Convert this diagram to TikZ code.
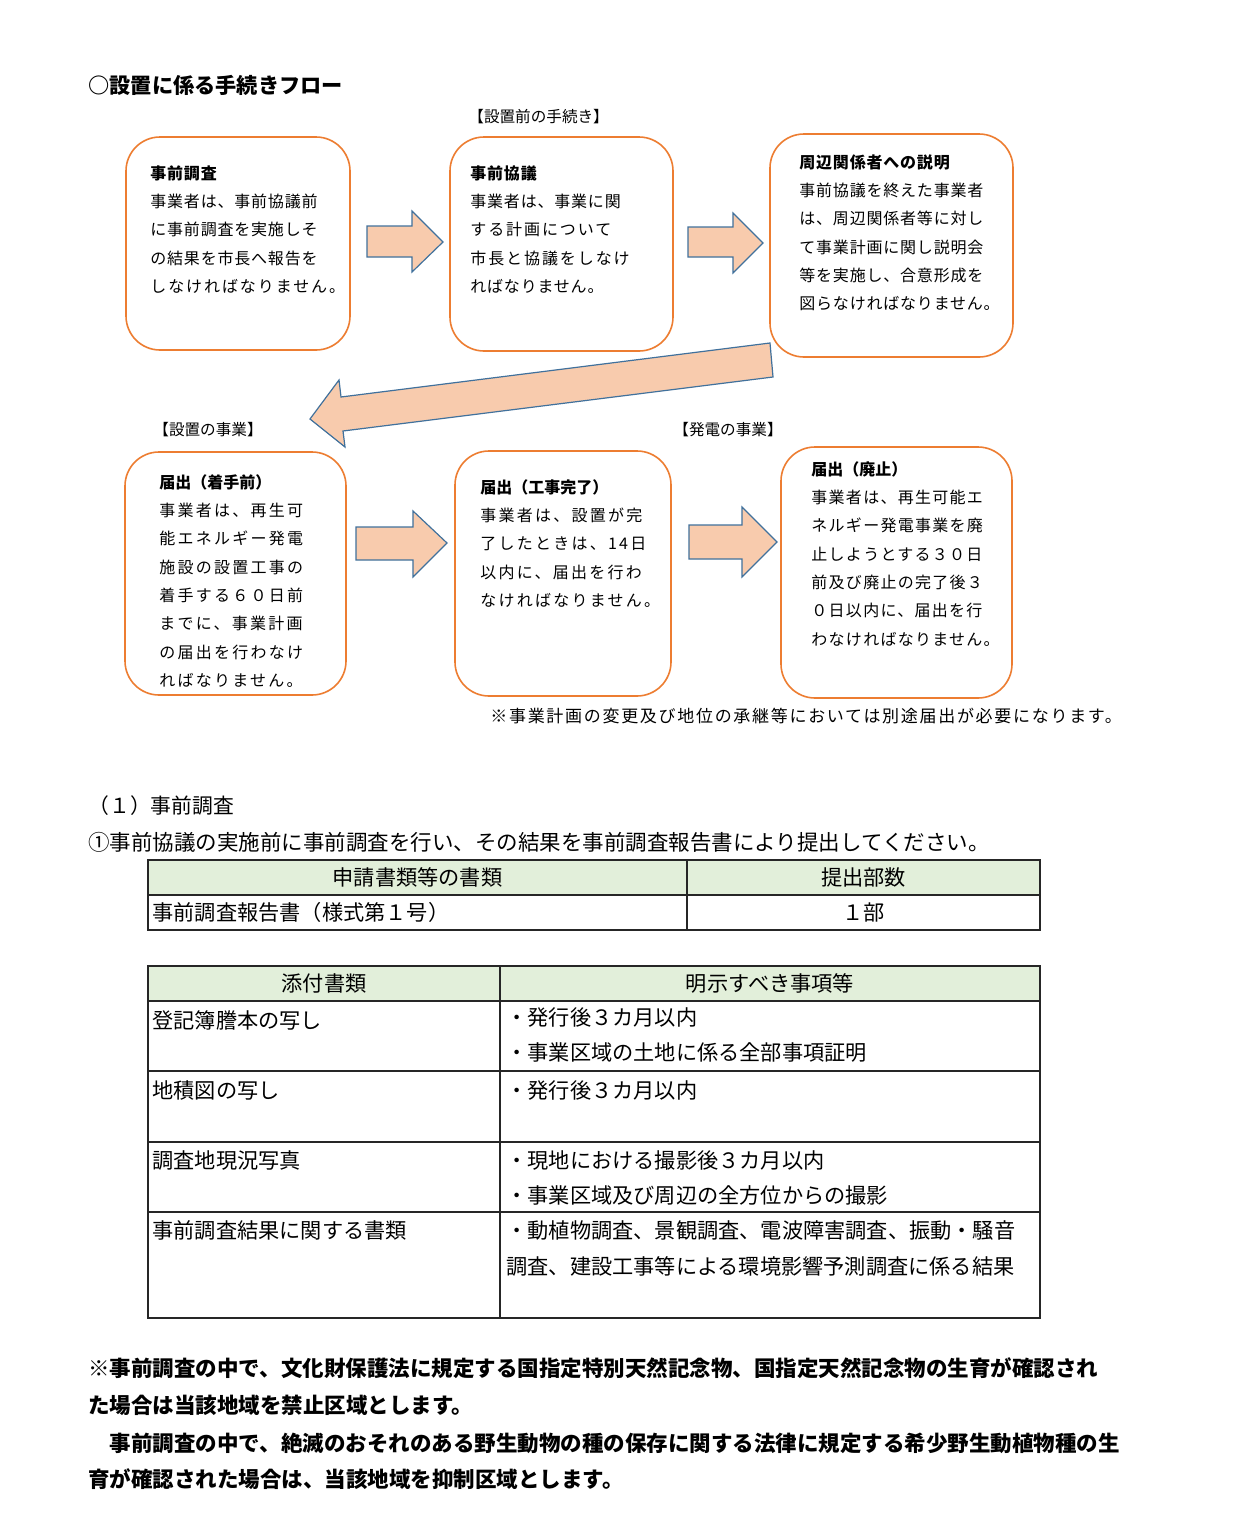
\documentclass[tikz,border=0pt]{standalone}
\usepackage{fontspec}
\setmainfont{Noto Sans CJK JP}
\usetikzlibrary{calc}

\definecolor{boxline}{HTML}{ED7D31}
\definecolor{arrfill}{HTML}{F8CBAD}
\definecolor{arrline}{HTML}{41719C}
\definecolor{headfill}{HTML}{E2EFDA}
\definecolor{tblline}{HTML}{262626}

\begin{document}
\begin{tikzpicture}[x=0.5pt, y=-0.5pt,
  box/.style={draw=boxline, line width=0.8pt, rounded corners=17pt},
  boxtxt/.style={anchor=north west, inner sep=0pt, align=left, font=\fontsize{8}{14.15}\selectfont\addfontfeatures{LetterSpace=#1}},
  boxtxt/.default=5,
  tag/.style={anchor=west, inner sep=0pt, font=\fontsize{7.8}{9}\selectfont},
  blk/.style={draw=arrline, line width=0.6pt, fill=arrfill, line join=miter},
  tbl/.style={draw=tblline, line width=0.8pt},
  cell/.style={anchor=west, inner sep=0pt, font=\fontsize{10.6}{12}\selectfont},
  note/.style={anchor=west, inner sep=0pt, font=\fontsize{10.75}{12}\selectfont\bfseries}]
\useasboundingbox (0,0) rectangle (1240,1531);
\fill[white] (0,0) rectangle (1240,1531);

\node[anchor=west, inner sep=0pt, font=\fontsize{10.6}{12}\selectfont\bfseries] (title) at (88,85) {○設置に係る手続きフロー};

% flow boxes
\node[box, minimum width=112pt, minimum height=106.5pt] (b1) at (238,243.5) {};
\node[box, minimum width=111.5pt, minimum height=107pt] (b2) at (561.5,244) {};
\node[box, minimum width=121.5pt, minimum height=111.5pt] (b3) at (891.5,245.5) {};
\node[box, minimum width=110.5pt, minimum height=121.5pt] (b4) at (235.5,573.5) {};
\node[box, minimum width=108pt, minimum height=122.5pt] (b5) at (563,573.5) {};
\node[box, minimum width=115.5pt, minimum height=125.5pt] (b6) at (896.5,572.5) {};

\node[boxtxt] (t1) at (150,165) {\textbf{事前調査}\\事業者は、事前協議前\\に事前調査を実施しそ\\の結果を市長へ報告を\\{\addfontfeatures{LetterSpace=12}しなければなりません。}};
\node[boxtxt] (t2) at (470,165) {\textbf{事前協議}\\事業者は、事業に関\\{\addfontfeatures{LetterSpace=12}する計画について}\\{\addfontfeatures{LetterSpace=12}市長と協議をしなけ}\\ればなりません。};
\node[boxtxt] (t3) at (799,154) {\textbf{周辺関係者への説明}\\事前協議を終えた事業者\\は、周辺関係者等に対し\\て事業計画に関し説明会\\等を実施し、合意形成を\\図らなければなりません。};
\node[boxtxt=14] (t4) at (159,474) {{\addfontfeatures{LetterSpace=0}\textbf{届出（着手前）}}\\事業者は、再生可\\能エネルギー発電\\施設の設置工事の\\着手する６０日前\\までに、事業計画\\の届出を行わなけ\\ればなりません。};
\node[boxtxt=14] (t5) at (480,479) {{\addfontfeatures{LetterSpace=0}\textbf{届出（工事完了）}}\\事業者は、設置が完\\了したときは、14日\\以内に、届出を行わ\\なければなりません。};
\node[boxtxt=8] (t6) at (811,461) {{\addfontfeatures{LetterSpace=0}\textbf{届出（廃止）}}\\事業者は、再生可能エ\\ネルギー発電事業を廃\\止しようとする３０日\\前及び廃止の完了後３\\０日以内に、届出を行\\わなければなりません。};

\node[tag] (lb1) at (468,117) {【設置前の手続き】};
\node[tag] (lb2) at (153,430) {【設置の事業】};
\node[tag] (lb3) at (673,430) {【発電の事業】};

% block arrows
\draw[blk] (367,226) -- (412,226) -- (412,211) -- (443,242) -- (412,272) -- (412,257) -- (367,257) -- cycle;
\draw[blk] (688,227) -- (733,227) -- (733,213) -- (763,243) -- (733,273) -- (733,257) -- (688,257) -- cycle;
\draw[blk] (770,343) -- (341,397) -- (339,380) -- (310,419) -- (345,447) -- (343,431) -- (773,377) -- cycle;
\draw[blk] (356,527) -- (413,527) -- (413,511) -- (447,543) -- (413,577) -- (413,560) -- (356,560) -- cycle;
\draw[blk] (689,525) -- (742,525) -- (742,507) -- (777,542) -- (742,577) -- (742,559) -- (689,559) -- cycle;

\node[anchor=west, inner sep=0pt, font=\fontsize{8.5}{10}\selectfont\addfontfeatures{LetterSpace=10}] (fn) at (490,716) {※事業計画の変更及び地位の承継等においては別途届出が必要になります。};

% section (1)
\node[anchor=west, inner sep=0pt, font=\fontsize{10.4}{12}\selectfont] (sec) at (88,806) {（１）事前調査};
\node[anchor=west, inner sep=0pt, font=\fontsize{10.75}{12}\selectfont] (lead) at (88,842) {①事前協議の実施前に事前調査を行い、その結果を事前調査報告書により提出してください。};

% table 1
\fill[headfill] (148,860) rectangle (1040,895);
\draw[tbl] (148,860) rectangle (1040,930);
\draw[tbl] (148,895) -- (1040,895);
\draw[tbl] (687,860) -- (687,930);
\node[cell, anchor=center] (h11) at (417.5,877) {申請書類等の書類};
\node[cell, anchor=center] (h12) at (863.5,877) {提出部数};
\node[cell] (c11) at (152,912) {事前調査報告書（様式第１号）};
\node[cell, anchor=center] (c12) at (863.5,912) {１部};

% table 2
\fill[headfill] (148,966) rectangle (1040,1001);
\draw[tbl] (148,966) rectangle (1040,1318);
\foreach \yy in {1001,1071,1142,1212}
  \draw[tbl] (148,\yy) -- (1040,\yy);
\draw[tbl] (500,966) -- (500,1318);
\node[cell, anchor=center] (h21) at (324,983) {添付書類};
\node[cell, anchor=center] (h22) at (770,983) {明示すべき事項等};
\node[cell] (r1a) at (152,1020) {登記簿謄本の写し};
\node[cell] (r1b) at (506,1017) {・発行後３カ月以内};
\node[cell] (r1c) at (506,1052) {・事業区域の土地に係る全部事項証明};
\node[cell] (r2a) at (152,1090) {地積図の写し};
\node[cell] (r2b) at (506,1090) {・発行後３カ月以内};
\node[cell] (r3a) at (152,1160) {調査地現況写真};
\node[cell] (r3b) at (506,1160) {・現地における撮影後３カ月以内};
\node[cell] (r3c) at (506,1195) {・事業区域及び周辺の全方位からの撮影};
\node[cell] (r4a) at (152,1230) {事前調査結果に関する書類};
\node[cell] (r4b) at (506,1230) {・動植物調査、景観調査、電波障害調査、振動・騒音};
\node[cell] (r4c) at (506,1266) {調査、建設工事等による環境影響予測調査に係る結果};

% closing notes
\node[note] (n1) at (88,1368) {※事前調査の中で、文化財保護法に規定する国指定特別天然記念物、国指定天然記念物の生育が確認され};
\node[note] (n2) at (88,1405) {た場合は当該地域を禁止区域とします。};
\node[note] (n3) at (88,1443) {　事前調査の中で、絶滅のおそれのある野生動物の種の保存に関する法律に規定する希少野生動植物種の生};
\node[note] (n4) at (88,1479) {育が確認された場合は、当該地域を抑制区域とします。};
\end{tikzpicture}
\end{document}
